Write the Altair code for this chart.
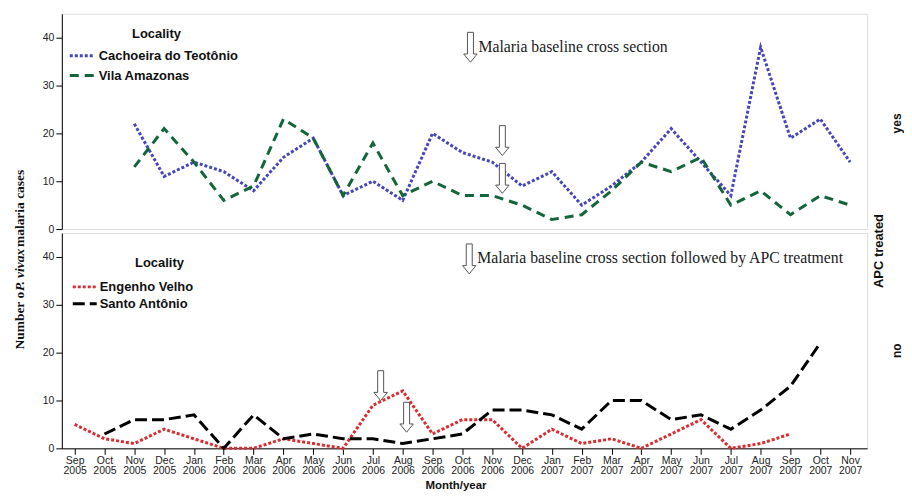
import altair as alt
import pandas as pd

# ---------------- data ----------------
months = ["Sep", "Oct", "Nov", "Dec", "Jan", "Feb", "Mar", "Apr", "May", "Jun", "Jul", "Aug",
          "Sep", "Oct", "Nov", "Dec", "Jan", "Feb", "Mar", "Apr", "May", "Jun", "Jul", "Aug",
          "Sep", "Oct", "Nov"]
years = ["2005", "2005", "2005", "2005", "2006", "2006", "2006", "2006", "2006", "2006", "2006", "2006",
         "2006", "2006", "2006", "2006", "2007", "2007", "2007", "2007", "2007", "2007", "2007", "2007",
         "2007", "2007", "2007"]

cachoeira = [None, None, 22, 11, 14, 12, 8, 15, 19, 7, 10, 6, 20, 16, 14, 9, 12, 5, 9, 14, 21, 14, 7, 38, 19, 23, 14]
vila = [None, None, 13, 21, 14, 6, 9, 23, 19, 7, 18, 7, 10, 7, 7, 5, 2, 3, 8, 14, 12, 15, 5, 8, 3, 7, 5]
engenho = [5, 2, 1, 4, 2, 0, 0, 2, 1, 0, 9, 12, 3, 6, 6, 0, 4, 1, 2, 0, 3, 6, 0, 1, 3, None, None]
santo = [None, 3, 6, 6, 7, 0, 7, 2, 3, 2, 2, 1, 2, 3, 8, 8, 7, 4, 10, 10, 6, 7, 4, 8, 13, 22, None]

localities = ["Cachoeira do Teotônio", "Vila Amazonas", "Engenho Velho", "Santo Antônio"]
colors = ["#4646bc", "#13663a", "#dc2a2e", "#000000"]
dashes = [[3, 2], [9, 6], [3, 2], [12, 5]]

# arrows (month index, cases) for each panel
top_arrow_x = [13.27, 14.34, 14.34]
top_arrow_y = [38.0, 18.5, 10.6]
bot_arrow_x = [13.23, 10.26, 11.13]
bot_arrow_y = [39.6, 13.1, 6.5]

top_note = "Malaria baseline cross section"
bot_note = "Malaria baseline cross section followed by APC treatment"


def long_df(series_dict):
    rows = []
    for name, vals in series_dict.items():
        for i, v in enumerate(vals):
            if v is not None:
                rows.append({"idx": i, "cases": v, "loc": name})
    return pd.DataFrame(rows)


top_df = long_df({localities[0]: cachoeira, localities[1]: vila})
bot_df = long_df({localities[2]: engenho, localities[3]: santo})

W, H = 808, 216
xscale = alt.Scale(domain=[-0.43, 26.57], nice=False, zero=False)
yscale = alt.Scale(domain=[0, 45], nice=False)
cscale = alt.Scale(domain=localities, range=colors)
dscale = alt.Scale(domain=localities, range=dashes)

yaxis = alt.Axis(values=[0, 10, 20, 30, 40], grid=False, title=None, tickSize=6, tickColor="#000",
                 domainColor="#000", labelFontSize=10.5, labelPadding=2, labelColor="#222",
                 labelFont="Liberation Sans")

label_expr = "[" + ",".join("['%s','%s']" % (m, y) for m, y in zip(months, years)) + "][datum.value]"
xaxis_bottom = alt.Axis(values=list(range(len(months))), grid=False, tickSize=6, tickColor="#000",
                        domainColor="#000", labelExpr=label_expr, labelFontSize=10.5, labelLineHeight=10.5,
                        labelPadding=1, labelAngle=0, labelOverlap=False, labelFlush=False,
                        labelColor="#222", labelFont="Liberation Sans",
                        title="Month/year", titleFont="Liberation Sans", titleFontSize=11.5,
                        titleFontWeight="bold", titlePadding=3, titleX=395, titleColor="#111")

ARROW = "M -0.2 -1 L 0.2 -1 L 0.2 0.45 L 0.45 0.45 L 0 1 L -0.45 0.45 L -0.2 0.45 Z"


def panel(df, names, ax, ay, note, note_y, leg, side_text, side_y, bottom):
    xenc = alt.X("idx:Q", scale=xscale, axis=xaxis_bottom if bottom else None)
    yenc = alt.Y("cases:Q", scale=yscale, axis=yaxis)
    lines = alt.Chart(df).mark_line(strokeWidth=3, strokeCap="butt").encode(
        x=xenc, y=yenc,
        color=alt.Color("loc:N", scale=cscale, legend=None),
        strokeDash=alt.StrokeDash("loc:N", scale=dscale, legend=None),
    )
    arrows = alt.Chart(pd.DataFrame({"idx": ax, "cases": ay})).mark_point(
        shape=ARROW, size=900, filled=True, fill="white", stroke="#555", strokeWidth=1, opacity=1
    ).encode(x=xenc, y=yenc)
    note_layer = alt.Chart(pd.DataFrame({"idx": [ax[0] + 0.27], "cases": [note_y], "t": [note]})).mark_text(
        align="left", baseline="middle", font="Liberation Serif", fontSize=15.8, color="#1a1a1a"
    ).encode(x=xenc, y=yenc, text="t:N")
    layers = [lines, arrows, note_layer]
    # legend
    tx, ty, sx0, sx1, lx, ys = leg
    layers.append(alt.Chart(pd.DataFrame({"t": ["Locality"]})).mark_text(
        font="Liberation Sans", fontWeight="bold", fontSize=13, color="#111", baseline="middle"
    ).encode(x=alt.value(tx), y=alt.value(ty), text="t:N"))
    for name, yy in zip(names, ys):
        layers.append(alt.Chart(pd.DataFrame({"loc": [name]})).mark_rule(strokeWidth=3, strokeCap="butt").encode(
            x=alt.value(sx0), x2=alt.value(sx1), y=alt.value(yy),
            color=alt.Color("loc:N", scale=cscale, legend=None),
            strokeDash=alt.StrokeDash("loc:N", scale=dscale, legend=None)))
        layers.append(alt.Chart(pd.DataFrame({"t": [name]})).mark_text(
            align="left", baseline="middle", font="Liberation Sans", fontWeight="bold", fontSize=13, color="#111"
        ).encode(x=alt.value(lx), y=alt.value(yy), text="t:N"))
    layers.append(alt.Chart(pd.DataFrame({"t": [side_text]})).mark_text(
        angle=270, align="center", baseline="middle", font="Liberation Sans", fontWeight="bold", fontSize=12,
        color="#111"
    ).encode(x=alt.value(W + 30), y=alt.value(side_y), text="t:N"))
    if bottom:
        layers.append(alt.Chart(pd.DataFrame({"t": ["APC treated"]})).mark_text(
            angle=270, align="center", baseline="middle", font="Liberation Sans", fontWeight="bold", fontSize=13,
            color="#111"
        ).encode(x=alt.value(W + 12), y=alt.value(18), text="t:N"))
        parts = [("Number o", "right", "normal", 59), ("P. vivax", "center", "italic", 37),
                 ("malaria cases", "left", "normal", 14)]
        for txt, al, st, py in parts:
            layers.append(alt.Chart(pd.DataFrame({"t": [txt]})).mark_text(
                angle=270, align=al, baseline="middle", font="Liberation Serif", fontWeight="bold",
                fontStyle=st, fontSize=13.5, color="#111"
            ).encode(x=alt.value(-42), y=alt.value(py), text="t:N"))
    return alt.layer(*layers).properties(width=W, height=H)


top = panel(top_df, localities[:2], top_arrow_x, top_arrow_y, top_note, 38.1,
            (95, 20, 8, 33, 37, [42, 62]), "yes", 110, False)
bottom = panel(bot_df, localities[2:], bot_arrow_x, bot_arrow_y, bot_note, 39.8,
               (98, 30, 11, 35, 38, [54, 71]), "no", 118, True)

chart = alt.vconcat(top, bottom, spacing=4, bounds="flush").properties(
    padding={"left": 4, "top": 4, "right": 0, "bottom": 0}
).configure_view(stroke="#555", strokeWidth=1.5).configure(background="white")

chart.save("out.html", embed_options={"renderer": "svg", "actions": False})
